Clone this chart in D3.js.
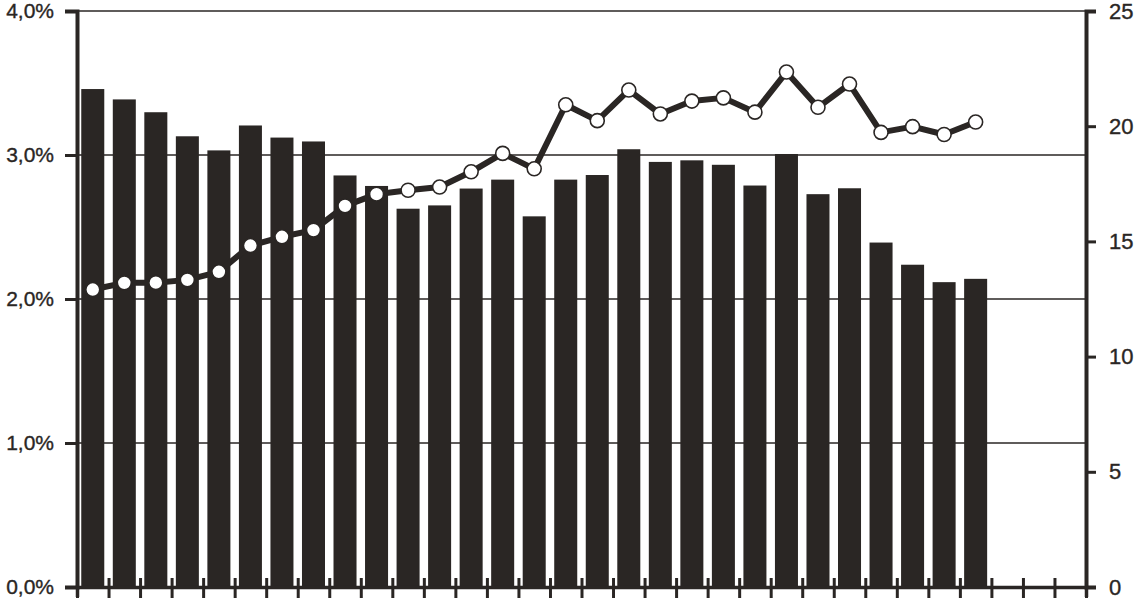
<!DOCTYPE html>
<html>
<head>
<meta charset="utf-8">
<script src="https://cdn.jsdelivr.net/npm/d3@7"></script>
<style>
  html, body { margin: 0; padding: 0; background: #ffffff; }
  svg { display: block; }
  text { font-family: "Liberation Sans", Arial, sans-serif; fill: #2a2624; }
</style>
</head>
<body>
<svg id="chart" width="1140" height="602"></svg>
<script>
// ---- Data ----
const categories = d3.range(1, 33).map(String);   // 32 slots, last 3 empty
const barValues = [3.458, 3.386, 3.297, 3.130, 3.032, 3.205, 3.121, 3.094, 2.858, 2.785,
                   2.627, 2.650, 2.767, 2.829, 2.574, 2.829, 2.861, 3.040, 2.952, 2.963,
                   2.932, 2.788, 3.007, 2.728, 2.769, 2.392, 2.238, 2.117, 2.140];   // % (left axis)
const lineValues = [12.91, 13.20, 13.21, 13.33, 13.68, 14.82, 15.20, 15.49, 16.54, 17.05,
                    17.22, 17.36, 18.02, 18.82, 18.15, 20.93, 20.24, 21.57, 20.53, 21.09,
                    21.23, 20.61, 22.35, 20.82, 21.83, 19.73, 19.98, 19.64, 20.18];  // right axis
const leftTicks = [0, 1, 2, 3, 4];
const leftTickLabels = ["0,0%", "1,0%", "2,0%", "3,0%", "4,0%"];
const rightTicks = [0, 5, 10, 15, 20, 25];

// ---- Layout ----
const ink = "#2a2624";
const X0 = 77, X1 = 1086, YTOP = 11, YBOT = 587;

const svg = d3.select("#chart");

const x = d3.scaleBand().domain(categories).range([X0, X1])
  .paddingInner(0.27).paddingOuter(0.135);
const xIdx = d3.scaleLinear().domain([0, categories.length]).range([X0, X1]);
const yL = d3.scaleLinear().domain([0, 4]).range([YBOT, YTOP]);
const yR = d3.scaleLinear().domain([0, 25]).range([YBOT, YTOP]);

// gridlines (left scale)
svg.append("g").selectAll("line").data(leftTicks.filter(d => d > 0)).join("line")
  .attr("x1", X0).attr("x2", X1)
  .attr("y1", d => yL(d)).attr("y2", d => yL(d))
  .attr("stroke", ink).attr("stroke-width", 1.7);

// bars
svg.append("g").selectAll("rect").data(barValues).join("rect")
  .attr("x", (d, i) => x(categories[i]))
  .attr("width", x.bandwidth())
  .attr("y", d => yL(d))
  .attr("height", d => yL(0) - yL(d))
  .attr("fill", ink);

// left axis
const axL = d3.axisLeft(yL).tickValues(leftTicks)
  .tickFormat((d, i) => leftTickLabels[i]).tickSize(12).tickPadding(11);
const gL = svg.append("g").attr("transform", `translate(${X0},0)`).call(axL);
gL.select(".domain").attr("stroke", ink).attr("stroke-width", 4);
gL.selectAll(".tick line").attr("stroke", ink).attr("stroke-width", 3);
gL.selectAll(".tick text").style("font-size", "21px").attr("fill", ink)
  .attr("stroke", ink).attr("stroke-width", 0.35);

// right axis
const axR = d3.axisRight(yR).tickValues(rightTicks).tickSize(10).tickPadding(13);
const gR = svg.append("g").attr("transform", `translate(${X1},0)`).call(axR);
gR.select(".domain").attr("stroke", ink).attr("stroke-width", 4);
gR.selectAll(".tick line").attr("stroke", ink).attr("stroke-width", 3);
gR.selectAll(".tick text").style("font-size", "22px").attr("fill", ink)
  .attr("stroke", ink).attr("stroke-width", 0.35);

// bottom axis: ticks crossing the axis at band boundaries
const axB = d3.axisBottom(xIdx).tickValues(d3.range(0, categories.length + 1))
  .tickFormat("").tickSize(10);
const gB = svg.append("g").attr("transform", `translate(0,${YBOT})`).call(axB);
gB.select(".domain").attr("stroke", ink).attr("stroke-width", 3.5);
gB.selectAll(".tick line").attr("y1", -9).attr("y2", 11)
  .attr("stroke", ink).attr("stroke-width", 3);

// line series (right scale)
const cx = (d, i) => x(categories[i]) + x.bandwidth() / 2;
const line = d3.line().x(cx).y(d => yR(d));
svg.append("path").datum(lineValues)
  .attr("d", line).attr("fill", "none")
  .attr("stroke", ink).attr("stroke-width", 6).attr("stroke-linejoin", "round");
svg.append("g").selectAll("circle").data(lineValues).join("circle")
  .attr("cx", cx).attr("cy", d => yR(d)).attr("r", 7)
  .attr("fill", "#ffffff").attr("stroke", ink).attr("stroke-width", 1.6);
</script>
</body>
</html>
